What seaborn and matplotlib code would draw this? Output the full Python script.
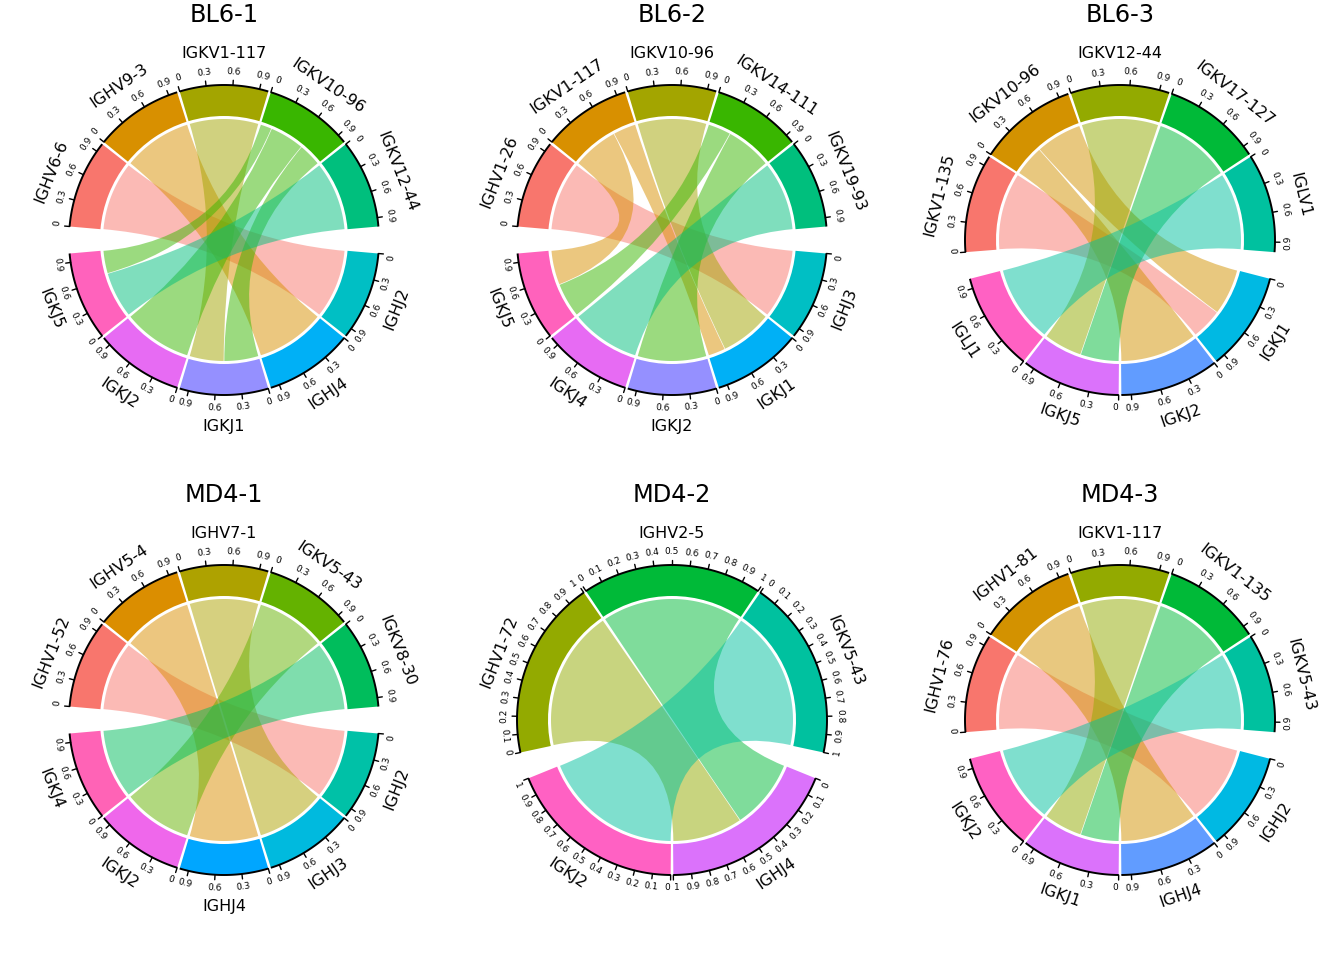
import numpy as np
import matplotlib
matplotlib.use("Agg")
import matplotlib.pyplot as plt
from matplotlib.path import Path
from matplotlib.patches import PathPatch, Wedge
import seaborn as sns

# ---------------- data (fraction of each sector, scaled per sector) ----------------
bl6_1_v = ["IGHV6-6", "IGHV9-3", "IGKV1-117", "IGKV10-96", "IGKV12-44"]
bl6_1_j = ["IGHJ2", "IGHJ4", "IGKJ1", "IGKJ2", "IGKJ5"]
bl6_1_from = ["IGHV6-6", "IGHV9-3", "IGKV1-117", "IGKV10-96", "IGKV10-96", "IGKV10-96", "IGKV12-44"]
bl6_1_to = ["IGHJ2", "IGHJ4", "IGKJ1", "IGKJ1", "IGKJ2", "IGKJ5", "IGKJ5"]
bl6_1_value = [1, 1, 2, 2, 3, 1, 2]

bl6_2_v = ["IGHV1-26", "IGKV1-117", "IGKV10-96", "IGKV14-111", "IGKV19-93"]
bl6_2_j = ["IGHJ3", "IGKJ1", "IGKJ2", "IGKJ4", "IGKJ5"]
bl6_2_from = ["IGHV1-26", "IGKV1-117", "IGKV1-117", "IGKV10-96", "IGKV14-111", "IGKV14-111", "IGKV19-93"]
bl6_2_to = ["IGHJ3", "IGKJ1", "IGKJ5", "IGKJ1", "IGKJ2", "IGKJ5", "IGKJ4"]
bl6_2_value = [1, 1, 2, 3, 4, 2, 1]

bl6_3_v = ["IGKV1-135", "IGKV10-96", "IGKV12-44", "IGKV17-127", "IGLV1"]
bl6_3_j = ["IGKJ1", "IGKJ2", "IGKJ5", "IGLJ1"]
bl6_3_from = ["IGKV1-135", "IGKV10-96", "IGKV10-96", "IGKV12-44", "IGKV17-127", "IGLV1"]
bl6_3_to = ["IGKJ1", "IGKJ1", "IGKJ2", "IGKJ5", "IGKJ5", "IGLJ1"]
bl6_3_value = [2, 3, 2, 1, 1, 1]

md4_1_v = ["IGHV1-52", "IGHV5-4", "IGHV7-1", "IGKV5-43", "IGKV8-30"]
md4_1_j = ["IGHJ2", "IGHJ3", "IGHJ4", "IGKJ2", "IGKJ4"]
md4_1_from = ["IGHV1-52", "IGHV5-4", "IGHV7-1", "IGKV5-43", "IGKV8-30"]
md4_1_to = ["IGHJ2", "IGHJ4", "IGHJ3", "IGKJ2", "IGKJ4"]
md4_1_value = [1, 1, 1, 1, 1]

md4_2_v = ["IGHV1-72", "IGHV2-5", "IGKV5-43"]
md4_2_j = ["IGHJ4", "IGKJ2"]
md4_2_from = ["IGHV1-72", "IGHV2-5", "IGKV5-43"]
md4_2_to = ["IGHJ4", "IGHJ4", "IGKJ2"]
md4_2_value = [1, 1, 1]

md4_3_v = ["IGHV1-76", "IGHV1-81", "IGKV1-117", "IGKV1-135", "IGKV5-43"]
md4_3_j = ["IGHJ2", "IGHJ4", "IGKJ1", "IGKJ2"]
md4_3_from = ["IGHV1-76", "IGHV1-81", "IGKV1-117", "IGKV1-135", "IGKV5-43"]
md4_3_to = ["IGHJ2", "IGHJ4", "IGKJ1", "IGKJ1", "IGKJ2"]
md4_3_value = [1, 1, 1, 1, 1]

# sector colours (ggplot-style hue palettes)
hue10 = ["#F8766D", "#D89000", "#A3A500", "#39B600", "#00BF7D",
         "#00BFC4", "#00B0F6", "#9590FF", "#E76BF3", "#FF62BC"]
hue9 = ["#F8766D", "#D39200", "#93AA00", "#00BA38", "#00C19F",
        "#00B9E3", "#619CFF", "#DB72FB", "#FF61C3"]
md4_1_colors = ["#F8766D", "#DB8E00", "#AEA200", "#64B200", "#00BD5C",
                "#00C1A7", "#00BADE", "#00A6FF", "#EF67EB", "#FF63B6"]
md4_2_colors = ["#93AA00", "#00BA38", "#00C19F", "#DB72FB", "#FF61C3"]

panels = [
    ("BL6-1", bl6_1_v, bl6_1_j, bl6_1_from, bl6_1_to, bl6_1_value, hue10),
    ("BL6-2", bl6_2_v, bl6_2_j, bl6_2_from, bl6_2_to, bl6_2_value, hue10),
    ("BL6-3", bl6_3_v, bl6_3_j, bl6_3_from, bl6_3_to, bl6_3_value, hue9),
    ("MD4-1", md4_1_v, md4_1_j, md4_1_from, md4_1_to, md4_1_value, md4_1_colors),
    ("MD4-2", md4_2_v, md4_2_j, md4_2_from, md4_2_to, md4_2_value, md4_2_colors),
    ("MD4-3", md4_3_v, md4_3_j, md4_3_from, md4_3_to, md4_3_value, hue9),
]

# ---------------- layout (pixel units inside each panel) ----------------
BIG_GAP, SMALL_GAP = 10.0, 1.0
R_AXIS, R_TRACK_IN, R_LINK = 155, 124, 121
TICK_LEN = 5
R_TICKLAB, R_NAME = 168, 186

sns.set_theme(style="white")
plt.rcParams["font.family"] = ["DejaVu Sans"]
plt.rcParams["text.color"] = "black"


def xy(r, deg):
    t = np.deg2rad(deg)
    return r * np.cos(t), r * np.sin(t)


def facing(deg):
    rot = (deg - 90) % 360
    flipped = 90 < rot < 270
    if flipped:
        rot -= 180
    return rot, flipped


def arc(r, a1, a2, n=60):
    t = np.deg2rad(np.linspace(a1, a2, n))
    return np.column_stack([r * np.cos(t), r * np.sin(t)])


def chord(ax, a1, a2, b1, b2, color):
    p1 = arc(R_LINK, a1, a2)
    p2 = arc(R_LINK, b1, b2)
    verts = list(p1) + [(0, 0), tuple(p2[0])] + list(p2[1:]) + [(0, 0), tuple(p1[0]), (0, 0)]
    codes = ([Path.MOVETO] + [Path.LINETO] * (len(p1) - 1) + [Path.CURVE3, Path.CURVE3]
             + [Path.LINETO] * (len(p2) - 1) + [Path.CURVE3, Path.CURVE3, Path.CLOSEPOLY])
    ax.add_patch(PathPatch(Path(verts, codes), fc=color, ec="none", alpha=0.5, zorder=1))


def draw_panel(ax, title, v_names, j_names, src, dst, val, colors):
    names = v_names + j_names
    n = len(names)
    pal = dict(zip(names, sns.color_palette(colors, n)))
    width = (360 - 2 * BIG_GAP - (n - 2) * SMALL_GAP) / n
    top_span = len(v_names) * width + (len(v_names) - 1) * SMALL_GAP
    start = {}
    a = 90 + top_span / 2
    for nm in v_names:
        start[nm] = a
        a -= width + SMALL_GAP
    a = 90 - top_span / 2 - BIG_GAP
    for nm in j_names:
        start[nm] = a
        a -= width + SMALL_GAP
    idx = {nm: i for i, nm in enumerate(names)}

    tot = {nm: 0.0 for nm in names}
    for s, d, v in zip(src, dst, val):
        tot[s] += v
        tot[d] += v

    ends = {}
    for nm in names:
        ks = [k for k in range(len(src)) if src[k] == nm or dst[k] == nm]
        ks.sort(key=lambda k: idx[dst[k]] if src[k] == nm else idx[src[k]], reverse=True)
        a = start[nm]
        for k in ks:
            w = val[k] / tot[nm] * width
            ends[(k, nm)] = (a - 0.15, a - w + 0.15)
            a -= w

    for k in range(len(src)):
        a1, a2 = ends[(k, src[k])]
        b1, b2 = ends[(k, dst[k])]
        chord(ax, a1, a2, b1, b2, pal[src[k]])

    for nm in names:
        s = start[nm]
        ax.add_patch(Wedge((0, 0), R_AXIS, s - width, s, width=R_AXIS - R_TRACK_IN,
                           fc=pal[nm], ec="none", zorder=2))
        line = arc(R_AXIS, s, s - width)
        ax.plot(line[:, 0], line[:, 1], color="black", lw=1.4, zorder=3,
                solid_capstyle="butt")
        ticks = np.round(np.arange(0, 1.001, 0.1), 1) if width > 50 else [0, 0.3, 0.6, 0.9]
        for tv in ticks:
            ang = s - tv * width
            x0, y0 = xy(R_AXIS, ang)
            x1, y1 = xy(R_AXIS + TICK_LEN, ang)
            ax.plot([x0, x1], [y0, y1], color="black", lw=1.0, zorder=3)
            lab = "0" if tv == 0 else ("1" if tv == 1 else f"{tv:.1f}")
            rot, flipped = facing(ang)
            ha = "center"
            if tv == 0:
                ha = "right" if flipped else "left"
            elif tv == 1:
                ha = "left" if flipped else "right"
            tx, ty = xy(R_TICKLAB, ang)
            ax.text(tx, ty, lab, fontsize=6.5, rotation=rot, rotation_mode="anchor",
                    ha=ha, va="center")
        mid = s - width / 2
        tx, ty = xy(R_NAME, mid)
        ax.text(tx, ty, nm, fontsize=11.5, rotation=facing(mid)[0], rotation_mode="anchor",
                ha="center", va="center")

    ax.text(0, 225, title, fontsize=17.3, ha="center", va="center")


fig = plt.figure(figsize=(13.44, 9.6), dpi=100)
for i, (title, v_names, j_names, src, dst, val, colors) in enumerate(panels):
    row, col = divmod(i, 3)
    ax = fig.add_axes([col / 3, 1 - (row + 1) / 2, 1 / 3, 1 / 2])
    ax.set_xlim(-224, 224)
    ax.set_ylim(-240, 240)
    ax.set_aspect("equal")
    ax.axis("off")
    draw_panel(ax, title, v_names, j_names, src, dst, val, colors)

fig.savefig("out.png", dpi=100, facecolor="white")
